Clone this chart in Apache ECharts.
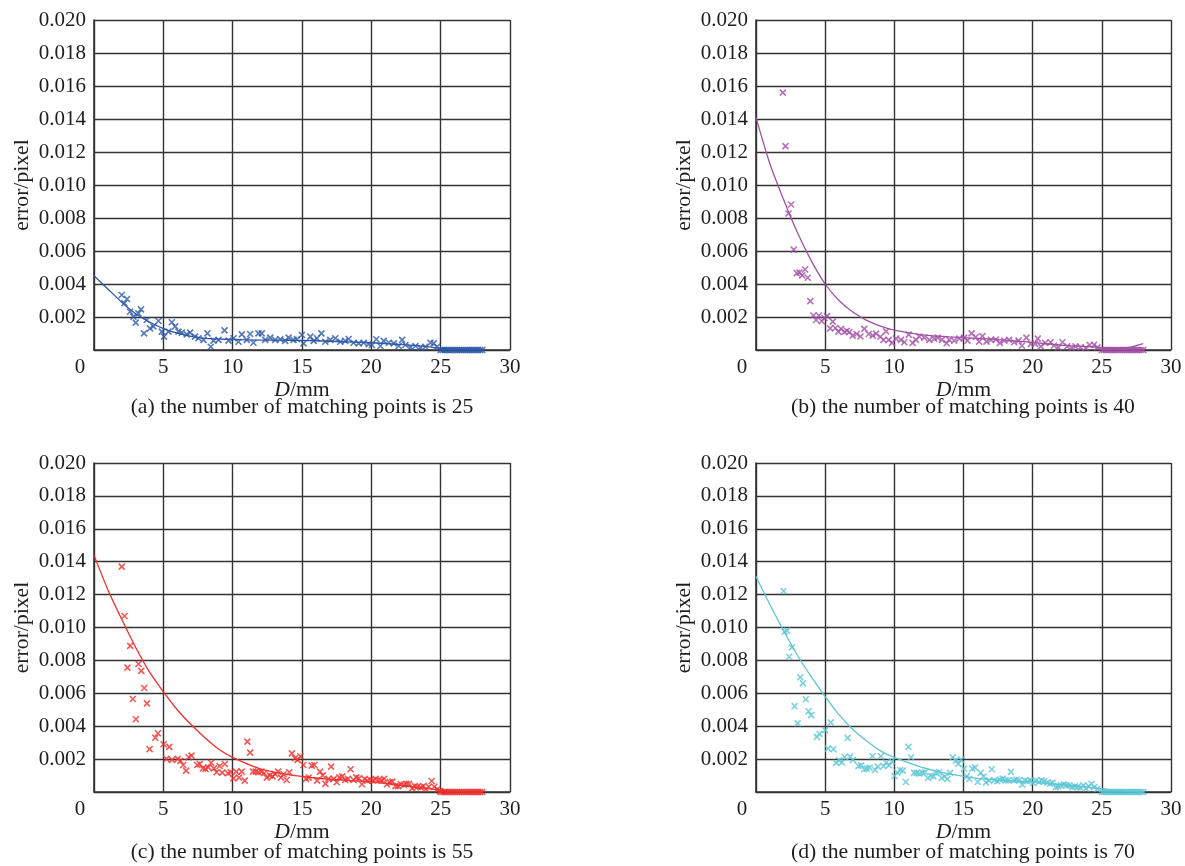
<!DOCTYPE html>
<html><head><meta charset="utf-8">
<script src="https://cdn.jsdelivr.net/npm/echarts@6/dist/echarts.min.js"></script>
<style>html,body{margin:0;padding:0;background:#fff}#c{width:1185px;height:866px}</style>
</head><body><div id="c"></div>
<script>
// ---- data ----
const xTickMax = 30, xTickStep = 5;
const yTickMax = 0.02, yTickStep = 0.002;
const captions = [
  '(a) the number of matching points is 25',
  '(b) the number of matching points is 40',
  '(c) the number of matching points is 55',
  '(d) the number of matching points is 70'
];
const seriesColors = ['#2c58a8', '#a24fa6', '#f0302c', '#5cc6d6'];

const tailX = [25.0,25.15,25.3,25.45,25.6,25.75,25.9,26.05,26.2,26.35,26.5,26.65,26.8,26.95,27.1,27.25,27.4,27.55,27.7,27.85,28.0];

const ptsA = [[2.0,0.00333],[2.38,0.00309],[2.19,0.00283],[2.6,0.00232],[3.39,0.00246],[2.84,0.00202],[3.01,0.00166],[3.2,0.00222],[3.61,0.00101],[3.8,0.00182],[4.04,0.00131],[4.28,0.00143],[4.65,0.00176],[4.89,0.00111],[5.05,0.00081],[5.37,0.00111],[5.61,0.00168],[5.85,0.00143],[6.09,0.00111],[6.33,0.00105],[6.69,0.00095],[6.93,0.00105],[7.29,0.00081],[7.53,0.00071],[7.9,0.00061],[8.18,0.00101],[8.42,0.0002],[8.62,0.00057],[8.98,0.00061],[9.41,0.00119],[9.7,0.00057],[10.06,0.00071],[10.42,0.0005],[10.66,0.00095],[11.02,0.00061],[11.26,0.00097],[11.5,0.00044],[11.86,0.00101],[12.1,0.00101],[12.35,0.00061],[12.71,0.00075],[13.07,0.00061],[13.43,0.00065],[13.79,0.00055],[14.03,0.00075],[14.39,0.00061],[14.63,0.00065],[14.99,0.00091],[15.11,0.0004],[15.6,0.00081],[15.84,0.00055],[16.08,0.00071],[16.4,0.00101],[16.68,0.0005],[17.04,0.00061],[17.4,0.00071],[17.76,0.0005],[18.12,0.00055],[18.36,0.00067],[18.72,0.00044],[19.09,0.0004],[19.45,0.00044],[19.81,0.00036],[20.05,0.0003],[20.36,0.00065],[20.65,0.00024],[20.89,0.00055],[21.26,0.00044],[21.62,0.0004],[21.98,0.00024],[22.22,0.00061],[22.46,0.0003],[22.82,0.00016],[23.18,0.00024],[23.54,0.00014],[23.9,0.0002],[24.26,0.00044],[24.5,0.0004],[24.74,0.0002]];
const fitA = [[0,0.0045],[1,0.0037],[2,0.0029],[3,0.0022],[4,0.0017],[5,0.0013],[6,0.00102],[7,0.00082],[8,0.0007],[10,0.00064],[12,0.0006],[14,0.00059],[16,0.00056],[18,0.0005],[20,0.00044],[22,0.00034],[24,0.0002],[25,0.0001],[26,0.00003],[28,0.0]];

const ptsB = [[1.94,0.0156],[2.13,0.01236],[2.54,0.00882],[2.35,0.00827],[2.73,0.00608],[2.95,0.00466],[3.14,0.0047],[3.34,0.00452],[3.55,0.00488],[3.74,0.00438],[3.93,0.00296],[4.15,0.00209],[4.34,0.00182],[4.54,0.00209],[4.75,0.00174],[4.95,0.00194],[5.14,0.00205],[5.36,0.00131],[5.55,0.00172],[5.74,0.00133],[5.96,0.00111],[6.15,0.00128],[6.39,0.00109],[6.56,0.00117],[6.75,0.00109],[6.99,0.00087],[7.28,0.00097],[7.55,0.00082],[7.83,0.00128],[8.15,0.00097],[8.44,0.00087],[8.68,0.00099],[8.99,0.0008],[9.21,0.00061],[9.4,0.00113],[9.59,0.00061],[9.83,0.00043],[10.12,0.00069],[10.48,0.00061],[10.72,0.00047],[11.04,0.00093],[11.32,0.00043],[11.56,0.00061],[11.8,0.00082],[12.16,0.00075],[12.53,0.00061],[12.89,0.00069],[13.13,0.00075],[13.44,0.00061],[13.78,0.00041],[13.97,0.00061],[14.33,0.00057],[14.69,0.00069],[15.05,0.00075],[15.29,0.00057],[15.58,0.00101],[15.89,0.00079],[16.13,0.00051],[16.37,0.00084],[16.66,0.00051],[16.98,0.00061],[17.34,0.00063],[17.63,0.00043],[17.94,0.00057],[18.3,0.00061],[18.66,0.00047],[18.98,0.00057],[19.22,0.00026],[19.55,0.00075],[19.87,0.00037],[20.18,0.00037],[20.37,0.00069],[20.59,0.00022],[20.9,0.00043],[21.3,0.00047],[21.54,0.00026],[21.86,0.00016],[22.15,0.00047],[22.5,0.00022],[22.82,0.00012],[23.1,0.00022],[23.47,0.00016],[23.83,0.00012],[24.12,0.0003],[24.44,0.00032],[24.68,0.00016]];
const fitB = [[0,0.0141],[1,0.0113],[2,0.0091],[3,0.0071],[4,0.0054],[5,0.0040],[6,0.003],[7,0.0023],[8,0.0018],[9,0.00145],[10,0.0012],[12,0.00092],[14,0.0008],[16,0.0007],[18,0.0006],[20,0.00046],[22,0.0003],[24,0.0002],[26,0.00011],[27,0.00016],[28,0.00038]];

const ptsC = [[2.0,0.0137],[2.2,0.0107],[2.61,0.00888],[2.41,0.00756],[3.21,0.00778],[3.41,0.00736],[2.8,0.00565],[3.62,0.00632],[3.02,0.00442],[3.82,0.00539],[4.01,0.00261],[4.42,0.0033],[4.61,0.00357],[5.02,0.0029],[5.43,0.00274],[5.22,0.00201],[5.63,0.00195],[6.04,0.00201],[6.23,0.00189],[6.43,0.00164],[6.64,0.0013],[6.83,0.00211],[7.03,0.00221],[7.44,0.00164],[7.63,0.0017],[7.85,0.00144],[8.04,0.0014],[8.24,0.0015],[8.45,0.00178],[8.65,0.00144],[8.84,0.0012],[9.06,0.00158],[9.25,0.00118],[9.44,0.0017],[9.66,0.00114],[9.85,0.0012],[10.05,0.00083],[10.26,0.00124],[10.46,0.00087],[10.65,0.00124],[10.87,0.00069],[11.06,0.00306],[11.26,0.00239],[11.47,0.00124],[11.67,0.00124],[11.86,0.0012],[12.08,0.00124],[12.27,0.00114],[12.46,0.00087],[12.68,0.00101],[12.87,0.00095],[13.06,0.00108],[13.28,0.00124],[13.48,0.00087],[13.67,0.00108],[13.89,0.00073],[14.08,0.0012],[14.27,0.00235],[14.49,0.00205],[14.68,0.00195],[14.88,0.00217],[15.1,0.00164],[15.29,0.0008],[15.48,0.00087],[15.7,0.0016],[15.89,0.00164],[16.09,0.00069],[16.3,0.00124],[16.5,0.00101],[16.69,0.00049],[16.91,0.0008],[17.1,0.00154],[17.29,0.0008],[17.51,0.00059],[17.7,0.00089],[17.9,0.00095],[18.11,0.00073],[18.31,0.0008],[18.5,0.00138],[18.72,0.00073],[18.91,0.00089],[19.1,0.00083],[19.32,0.00047],[19.52,0.0008],[19.71,0.00069],[19.93,0.00073],[20.12,0.00069],[20.31,0.0008],[20.53,0.00073],[20.72,0.00069],[20.92,0.0008],[21.13,0.00047],[21.33,0.0006],[21.52,0.00063],[21.74,0.00036],[21.93,0.00036],[22.12,0.00047],[22.34,0.00043],[22.53,0.00049],[22.72,0.00049],[22.94,0.00022],[23.14,0.00036],[23.33,0.00032],[23.55,0.00028],[23.74,0.00036],[23.93,0.00018],[24.15,0.00032],[24.35,0.00067],[24.54,0.00032],[24.76,0.00016],[24.95,0.00006]];
const fitC = [[0,0.0144],[1,0.0123],[2,0.0105],[3,0.0088],[4,0.0073],[5,0.0061],[6,0.005],[7,0.0041],[8,0.0033],[9,0.0026],[10,0.0021],[12,0.0014],[14,0.00105],[16,0.00085],[18,0.00072],[20,0.00062],[22,0.00042],[24,0.0002],[25,0.00011],[26,0.00003],[28,0.0]];

const ptsD = [[1.99,0.01222],[2.07,0.00974],[2.24,0.00981],[2.6,0.00879],[2.4,0.00822],[3.2,0.00697],[3.39,0.0066],[2.79,0.00522],[3.6,0.00564],[3.01,0.00417],[3.8,0.00491],[3.99,0.00467],[4.4,0.00335],[4.6,0.00353],[5.0,0.00376],[5.41,0.00423],[5.2,0.00264],[5.6,0.0026],[5.8,0.00177],[6.01,0.00193],[6.21,0.0018],[6.4,0.00213],[6.62,0.00329],[6.81,0.00215],[7.0,0.00195],[7.41,0.00158],[7.6,0.00162],[7.82,0.00138],[8.01,0.00142],[8.21,0.00148],[8.42,0.00217],[8.61,0.00134],[8.81,0.00154],[9.02,0.00217],[9.22,0.00158],[9.41,0.00178],[9.62,0.00162],[9.82,0.00187],[10.01,0.00097],[10.22,0.00118],[10.42,0.00134],[10.61,0.0013],[10.83,0.00061],[11.02,0.00274],[11.21,0.00211],[11.43,0.00116],[11.62,0.00116],[11.81,0.00112],[12.03,0.00116],[12.22,0.0012],[12.42,0.00085],[12.63,0.00099],[12.82,0.00095],[13.02,0.00116],[13.23,0.0012],[13.42,0.00085],[13.62,0.00095],[13.84,0.00079],[14.03,0.00116],[14.22,0.00211],[14.44,0.00191],[14.63,0.00171],[14.82,0.00197],[15.04,0.00142],[15.23,0.00095],[15.42,0.00079],[15.64,0.00142],[15.83,0.00148],[16.03,0.00061],[16.24,0.00116],[16.44,0.00095],[16.63,0.00057],[16.85,0.00071],[17.04,0.00138],[17.23,0.00071],[17.45,0.00065],[17.64,0.00075],[17.83,0.00081],[18.05,0.00071],[18.24,0.00071],[18.43,0.00122],[18.65,0.00071],[18.84,0.00075],[19.03,0.00071],[19.25,0.00045],[19.44,0.00071],[19.63,0.00065],[19.85,0.00071],[20.04,0.00055],[20.24,0.00071],[20.45,0.00061],[20.65,0.00071],[20.84,0.00065],[21.05,0.00057],[21.25,0.0005],[21.44,0.00057],[21.66,0.0003],[21.85,0.00034],[22.05,0.0004],[22.26,0.00046],[22.45,0.0004],[22.65,0.0004],[22.86,0.0003],[23.05,0.00034],[23.25,0.0003],[23.46,0.00026],[23.66,0.0004],[23.85,0.00022],[24.06,0.00034],[24.25,0.0005],[24.45,0.0003],[24.66,0.00018]];
const fitD = [[0,0.0131],[1,0.0114],[2,0.0098],[3,0.0083],[4,0.007],[5,0.0058],[6,0.0047],[7,0.0038],[8,0.0031],[9,0.0025],[10,0.0021],[12,0.0015],[14,0.0011],[16,0.00083],[18,0.0007],[20,0.0006],[22,0.00045],[24,0.00028],[25,0.0002],[26,0.0001],[28,0.0]];

// ---- layout ----
const FONT = 'Liberation Serif';
const FS = 21;
const CAPFS = 21.7;
const TXT = '#1e1e1e';
const GRIDC = '#333333';
const panels = [
  {grid:{left:94, top:20, width:416, height:330}, pts:ptsA, fit:fitA, cap:[302,407]},
  {grid:{left:756, top:20, width:415, height:330}, pts:ptsB, fit:fitB, cap:[963,407]},
  {grid:{left:94, top:463, width:416, height:329}, pts:ptsC, fit:fitC, cap:[302,852]},
  {grid:{left:756, top:463, width:415, height:329}, pts:ptsD, fit:fitD, cap:[963,852]}
];
const XMARK = 'path://M0,0L10,10M10,0L0,10';

const option = {
  backgroundColor:'#ffffff',
  animation:false,
  grid:[], xAxis:[], yAxis:[], series:[], graphic:[]
};
panels.forEach((p, i) => {
  option.grid.push(Object.assign({containLabel:false}, p.grid));
  option.xAxis.push({
    type:'value', gridIndex:i, min:0, max:xTickMax, interval:xTickStep,
    name:'{i|D}/mm', nameLocation:'middle', nameGap:22,
    nameTextStyle:{fontFamily:FONT, fontSize:CAPFS, color:TXT, rich:{i:{fontStyle:'italic', fontFamily:FONT, fontSize:CAPFS, color:TXT}}},
    axisLine:{show:true, onZero:false, lineStyle:{color:GRIDC, width:1.6}},
    axisTick:{show:false},
    splitLine:{show:true, lineStyle:{color:GRIDC, width:1.4}},
    axisLabel:{fontFamily:FONT, fontSize:FS, color:TXT, margin:7,
      formatter:v => v === 0 ? '{z|0}' : String(v),
      rich:{z:{padding:[0,28,0,0], fontFamily:FONT, fontSize:FS, color:TXT}}}
  });
  option.yAxis.push({
    type:'value', gridIndex:i, min:0, max:yTickMax, interval:yTickStep,
    name:'error/pixel', nameLocation:'middle', nameGap:61,
    nameTextStyle:{fontFamily:FONT, fontSize:CAPFS, color:TXT},
    axisLine:{show:true, onZero:false, lineStyle:{color:GRIDC, width:1.6}},
    axisTick:{show:false},
    splitLine:{show:true, lineStyle:{color:GRIDC, width:1.4}},
    axisLabel:{fontFamily:FONT, fontSize:FS, color:TXT, margin:8,
      formatter:v => v === 0 ? '' : v.toFixed(3)}
  });
  const col = seriesColors[i];
  const pts = p.pts.concat(tailX.map(x => [x, 0]));
  option.series.push({
    type:'scatter', xAxisIndex:i, yAxisIndex:i, data:pts, clip:false,
    symbol:XMARK, symbolSize:6,
    itemStyle:{color:'none', borderColor:col, borderWidth:1.6}
  });
  option.series.push({
    type:'line', xAxisIndex:i, yAxisIndex:i, data:p.fit, smooth:0.3,
    showSymbol:false, lineStyle:{color:col, width:1.3}
  });
  option.graphic.push({
    type:'text', x:p.cap[0], y:p.cap[1],
    style:{text:captions[i], fontFamily:FONT, fontSize:CAPFS, fill:TXT, align:'center', verticalAlign:'middle'}
  });
});
const chart = echarts.init(document.getElementById('c'), null, {renderer:'canvas'});
chart.setOption(option);
</script>
</body></html>
